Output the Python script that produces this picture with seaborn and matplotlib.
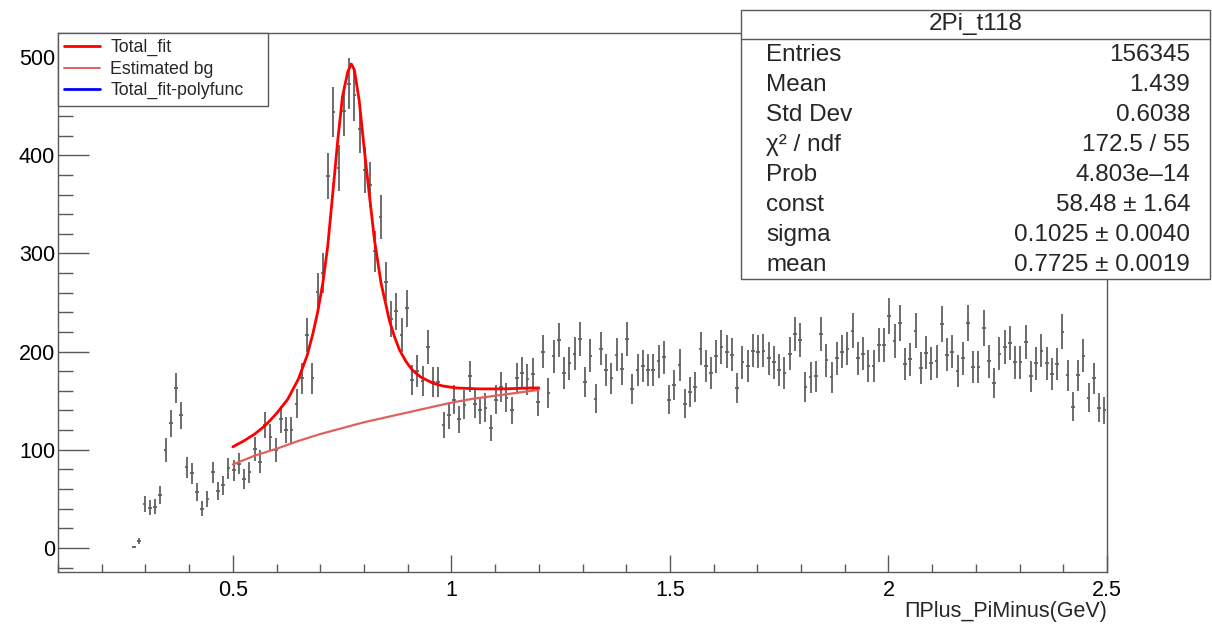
import numpy as np
import pandas as pd
import matplotlib
matplotlib.use("Agg")
import matplotlib.pyplot as plt
from matplotlib.patches import Rectangle
from matplotlib.lines import Line2D
from matplotlib.ticker import MultipleLocator
import seaborn as sns

# --- binning of the histogram (200 bins, 0.1 - 2.5 GeV), first filled bin = 14
x_min, x_max, n_bins = 0.1, 2.5, 200
first_bin = 14

# bin contents, bins 14..199
counts = [
    1, 7, 45, 41, 42, 54, 100, 127, 163, 135,
    82, 76, 57, 40, 50, 77, 58, 64, 81, 79,
    86, 70, 77, 101, 88, 125, 113, 100, 131, 120,
    120, 147, 173, 217, 173, 261, 280, 379, 444, 387,
    445, 473, 461, 427, 385, 370, 302, 337, 271, 233,
    241, 217, 244, 171, 180, 170, 205, 169, 169, 125,
    135, 151, 131, 146, 175, 147, 140, 143, 122, 151,
    164, 153, 140, 173, 178, 172, 177, 149, 200, 158,
    195, 212, 178, 188, 198, 213, 169, 196, 152, 203,
    181, 173, 197, 182, 213, 162, 181, 185, 181, 181,
    190, 194, 151, 166, 186, 147, 159, 164, 203, 185,
    178, 195, 205, 200, 197, 163, 189, 185, 201, 200,
    201, 193, 189, 181, 178, 198, 218, 212, 164, 174,
    175, 218, 191, 174, 193, 200, 203, 221, 193, 198,
    185, 185, 207, 207, 236, 211, 229, 187, 192, 221,
    183, 199, 188, 190, 228, 197, 200, 180, 193, 229,
    184, 184, 224, 190, 168, 198, 205, 209, 189, 189,
    210, 175, 188, 201, 188, 177, 187, 220, 176, 144,
    176, 196, 153, 173, 143, 140,
]
err_scale = 1.2  # weighted entries -> errors a bit larger than sqrt(N)

# fit curves
fit_x = [0.50, 0.525, 0.55, 0.575, 0.60, 0.625, 0.65, 0.67, 0.683, 0.694,
         0.706, 0.717, 0.729, 0.740, 0.751, 0.763, 0.771, 0.778, 0.789, 0.801,
         0.812, 0.824, 0.839, 0.858, 0.870, 0.881, 0.896, 0.911, 0.93, 0.957,
         0.98, 1.010, 1.063, 1.120, 1.185, 1.20]
fit_y = [103, 109, 116, 125, 137, 151, 172, 196, 218, 240,
         270, 307, 363, 415, 460, 485, 493, 487, 456, 405,
         361, 314, 270, 232, 215, 202, 190, 181, 174, 168,
         165, 163, 162, 162, 163, 163]

bg_x = [0.50, 0.55, 0.60, 0.65, 0.70, 0.75, 0.80, 0.85, 0.90, 0.95,
        1.00, 1.05, 1.10, 1.15, 1.20]
bg_y = [85, 94, 101, 109, 116, 122, 128, 133, 138, 143,
        148, 152, 155, 158, 161]

legend_labels = ["Total_fit", "Estimated bg", "Total_fit-polyfunc"]
legend_colors = ["#ff0000", "#e06060", "#0000ff"]

hist_title = "2Pi_t118"
stat_names = ["Entries", "Mean", "Std Dev", "χ² / ndf", "Prob", "const", "sigma", "mean"]
stat_values = ["156345", "1.439", "0.6038", "172.5 / 55", "4.803e–14",
               "58.48 ± 1.64", "0.1025 ± 0.0040", "0.7725 ± 0.0019"]

x_label = "ΠPlus_PiMinus(GeV)"

# --- data frame for the histogram points
bin_w = (x_max - x_min) / n_bins
df = pd.DataFrame({"content": counts})
df["x"] = x_min + bin_w * (np.arange(first_bin, first_bin + len(counts)) + 0.5)
df["err"] = err_scale * np.sqrt(df["content"])

sns.set_theme(style="white")
plt.rcParams["font.family"] = ["Liberation Sans", "DejaVu Sans"]

W, H = 1212, 625
fig = plt.figure(figsize=(W / 100, H / 100), dpi=100)
ax = fig.add_axes([58 / W, 1 - 572 / H, (1107 - 58) / W, (572 - 33) / H])

ax.errorbar(df["x"], df["content"], yerr=df["err"], xerr=0.0042,
            fmt="none", ecolor="0.38", elinewidth=1.3, capsize=0, zorder=2)

sns.lineplot(x=bg_x, y=bg_y, ax=ax, color=legend_colors[1], lw=1.6,
             estimator=None, sort=False, zorder=3)
sns.lineplot(x=fit_x, y=fit_y, ax=ax, color=legend_colors[0], lw=2.0,
             estimator=None, sort=False, zorder=4)

ax.set_xlim(x_min, x_max)
ax.set_ylim(-24.5, 524.5)

ax.set_xticks([0.5, 1, 1.5, 2, 2.5])
ax.set_xticklabels(["0.5", "1", "1.5", "2", "2.5"])
ax.xaxis.set_minor_locator(MultipleLocator(0.1))
ax.yaxis.set_major_locator(MultipleLocator(100))
ax.yaxis.set_minor_locator(MultipleLocator(20))

ax.tick_params(axis="both", which="both", direction="in", colors="0.35",
               labelcolor="black", width=1.0, labelsize=15.5,
               bottom=True, left=True, top=False, right=False)
ax.tick_params(axis="y", which="major", length=22, pad=2)
ax.tick_params(axis="y", which="minor", length=11)
ax.tick_params(axis="x", which="major", length=12, pad=6)
ax.tick_params(axis="x", which="minor", length=6)

for s in ax.spines.values():
    s.set_color("0.35")
    s.set_linewidth(1.0)

ax.set_xlabel(x_label, loc="right", fontsize=15.5, labelpad=0)
ax.set_ylabel("")

handles = [Line2D([], [], color=c, lw=lw) for c, lw in zip(legend_colors, [2.0, 1.4, 2.0])]
leg = ax.legend(handles, legend_labels, loc="upper left",
                bbox_to_anchor=(0, 1, (268 - 58) / (1107 - 58), 0), mode="expand",
                borderaxespad=0, frameon=True, fancybox=False, edgecolor="0.35",
                framealpha=1, fontsize=12.8, handlelength=2.0, handletextpad=0.6,
                labelspacing=0.25, borderpad=0.35)
leg.get_frame().set_linewidth(1.0)

# --- stats box (ROOT style), in pixel coords of the figure
bx0, bx1, by0, by1 = 741, 1210, 10, 279
fig.patches.append(Rectangle((bx0 / W, 1 - by1 / H), (bx1 - bx0) / W, (by1 - by0) / H,
                             transform=fig.transFigure, facecolor="white",
                             edgecolor="0.35", lw=1.0, zorder=10))
fig.lines.append(Line2D([bx0 / W, bx1 / W], [1 - 39 / H, 1 - 39 / H],
                        transform=fig.transFigure, color="0.35", lw=1.0, zorder=11))
fig.text((bx0 + bx1) / 2 / W, 1 - 24 / H, hist_title, ha="center", va="center",
         fontsize=17.5, zorder=12)
for i, (name, val) in enumerate(zip(stat_names, stat_values)):
    yy = 1 - (55 + 30 * i) / H
    fig.text(766 / W, yy, name, ha="left", va="center", fontsize=17.5, zorder=12)
    fig.text(1190 / W, yy, val, ha="right", va="center", fontsize=17.5, zorder=12)

fig.savefig("out.png", dpi=100)
